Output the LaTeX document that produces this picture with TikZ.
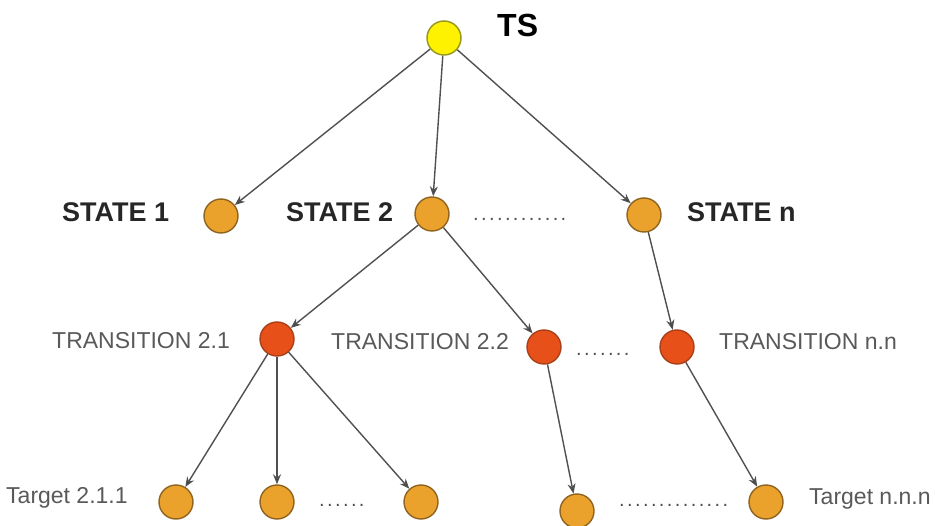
\documentclass[tikz,border=0pt]{standalone}
\usepackage{fontspec}
\setmainfont{Liberation Sans}
\newfontfamily\dotfont[LetterSpace=12]{Liberation Sans}
\usetikzlibrary{arrows.meta}
\definecolor{tsyellow}{HTML}{FFF200}
\definecolor{tsolive}{HTML}{9A9A20}
\definecolor{stateorange}{HTML}{EBA22C}
\definecolor{statebrown}{HTML}{8E6420}
\definecolor{transred}{HTML}{E8501A}
\definecolor{transbrown}{HTML}{A8401A}
\definecolor{edgegray}{HTML}{505050}
\tikzset{
	tsnode/.style={circle, draw=tsolive, fill=tsyellow, line width=1.5pt, minimum size=34pt, inner sep=0pt},
	statenode/.style={circle, draw=statebrown, fill=stateorange, line width=1.4pt, minimum size=34pt, inner sep=0pt},
	transnode/.style={circle, draw=transbrown, fill=transred, line width=1.4pt, minimum size=34pt, inner sep=0pt},
	lbl/.style={anchor=west, inner sep=0pt},
	statelbl/.style={lbl, font=\bfseries\fontsize{27}{27}\selectfont, text=black!85},
	translbl/.style={lbl, font=\fontsize{23}{23}\selectfont, text=black!65},
	dots/.style={inner sep=0pt, font=\dotfont\fontsize{20}{20}\selectfont, text=edgegray},
	link/.style={draw=edgegray, line width=1.4pt, -{Stealth[length=10pt,width=8pt,fill=black]}}
}

\begin{document}
\begin{tikzpicture}[x=1pt, y=-1pt]
\useasboundingbox (0,0) rectangle (935,526);

% root
\node [tsnode] (ts) at (444,38) {};
\node [lbl, font=\bfseries\fontsize{32}{32}\selectfont] at (497,25) {TS};

% states
\node [statenode] (s1) at (221,216) {};
\node [statenode] (s2) at (432,214) {};
\node [statenode] (sn) at (644,215) {};
\node [statelbl] at (62,212) {STATE 1};
\node [statelbl] at (286,212) {STATE 2};
\node [statelbl] at (687,212) {STATE n};
\node [dots, anchor=base west] at (473,221) {............};

% transitions
\node [transnode] (t21) at (277,339) {};
\node [transnode] (t22) at (544,347) {};
\node [transnode] (tnn) at (677,347) {};
\node [translbl] at (52,341) {TRANSITION 2.1};
\node [translbl] at (331,342) {TRANSITION 2.2};
\node [translbl] at (719,342) {TRANSITION n.n};
\node [dots, anchor=base west] at (576,356) {.......};

% targets
\node [statenode] (g1) at (176,502) {};
\node [statenode] (g2) at (277,502) {};
\node [statenode] (g3) at (421,502) {};
\node [statenode] (g4) at (577,511) {};
\node [statenode] (g5) at (766,502) {};
\node [translbl] at (6,498) {Target 2.1.1};
\node [translbl] at (809,499) {Target n.n.n};
\node [dots, anchor=base west] at (319,507) {......};
\node [dots, anchor=base west] at (619,507) {..............};

% connectors
\draw [link] (ts) -- (s1);
\draw [link] (ts) -- (s2);
\draw [link] (ts) -- (sn);
\draw [link] (s2) -- (t21);
\draw [link] (s2) -- (t22);
\draw [link] (sn) -- (tnn);
\draw [link] (t21) -- (g1);
\draw [link] (t21) -- (g2);
\draw [link] (t21) -- (g3);
\draw [link] (t22) -- (g4);
\draw [link] (tnn) -- (g5);
\end{tikzpicture}
\end{document}
